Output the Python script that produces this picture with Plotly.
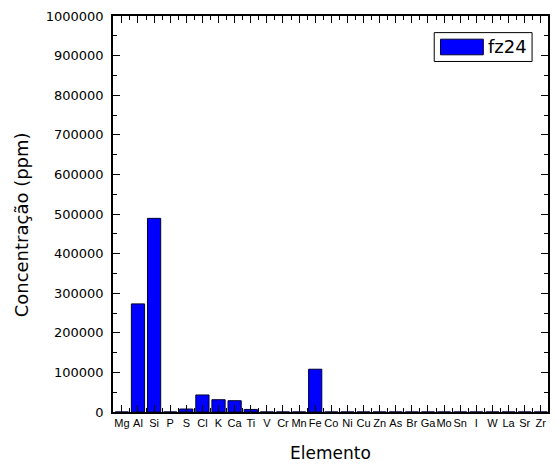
import plotly.graph_objects as go

elements = ["Mg", "Al", "Si", "P", "S", "Cl", "K", "Ca", "Ti", "V", "Cr", "Mn", "Fe",
            "Co", "Ni", "Cu", "Zn", "As", "Br", "Ga", "Mo", "Sn", "I", "W", "La", "Sr", "Zr"]
fz24 = [0, 273000, 489000, 0, 7500, 43000, 31000, 28500, 6500, 0, 0, 0, 108000,
        0, 0, 0, 0, 0, 0, 0, 0, 0, 0, 0, 0, 0, 0]
y_ticks = list(range(0, 1000001, 100000))

idx = list(range(len(elements)))
ARIAL = "Liberation Sans, Arial, sans-serif"
WIDE = "DejaVu Sans, sans-serif"

fig = go.Figure()
fig.add_trace(go.Bar(
    x=idx, y=fz24, name="fz24", width=0.82,
    marker=dict(color="#0000FF", line=dict(color="#000033", width=1)),
    showlegend=False,
))

fig.update_layout(
    width=559, height=469,
    margin=dict(l=113, r=9, t=15, b=56),
    paper_bgcolor="white", plot_bgcolor="white",
    font=dict(family=WIDE, color="black"),
)

fig.update_xaxes(
    range=[-0.55, 26.45],
    tickmode="array", tickvals=idx, ticktext=elements, tickangle=0,
    tickfont=dict(size=11, family=ARIAL), ticks="inside", ticklen=7, tickwidth=1,
    tickcolor="black",
    minor=dict(tickmode="linear", tick0=0.5, dtick=1, ticks="inside", ticklen=4,
               tickwidth=1, tickcolor="black", showgrid=False),
    showline=True, linecolor="black", linewidth=1.5, mirror="allticks",
    showgrid=False, zeroline=False,
    title=dict(text="Elemento", font=dict(size=17, family=WIDE), standoff=19),
)
fig.update_yaxes(
    range=[0, 1000000],
    tickmode="array", tickvals=y_ticks, ticktext=[str(v) for v in y_ticks],
    tickfont=dict(size=13, family=WIDE), ticks="inside", ticklen=7, tickwidth=1,
    tickcolor="black", ticklabelstandoff=5,
    minor=dict(tickmode="linear", tick0=50000, dtick=100000, ticks="inside", ticklen=4,
               tickwidth=1, tickcolor="black", showgrid=False),
    showline=True, linecolor="black", linewidth=1.5, mirror="allticks",
    showgrid=False, zeroline=False,
)

# Y axis title (placed like the original, slightly below the plot centre)
fig.add_annotation(xref="paper", yref="paper", x=(22 - 113) / 437, y=(413 - 225) / 398,
                   text="Concentração (ppm)", textangle=-90, showarrow=False,
                   xanchor="center", yanchor="middle",
                   font=dict(size=18, family=WIDE, color="black"))

# Legend box drawn manually (Origin-style wide swatch)
x0, x1 = (435.7 - 113) / 437, (534 - 113) / 437
y_top, y_bot = (413 - 31.7) / 398, (413 - 60.7) / 398
fig.add_shape(type="rect", xref="paper", yref="paper", x0=x0, x1=x1, y0=y_bot, y1=y_top,
              line=dict(color="black", width=1), fillcolor="white")
fig.add_shape(type="rect", xref="paper", yref="paper",
              x0=(442 - 113) / 437, x1=(485 - 113) / 437,
              y0=(413 - 54) / 398, y1=(413 - 38.3) / 398,
              line=dict(color="#000033", width=1), fillcolor="#0000FF")
fig.add_annotation(xref="paper", yref="paper", x=(488 - 113) / 437, y=(413 - 46) / 398,
                   text="fz24", showarrow=False, xanchor="left", yanchor="middle",
                   font=dict(size=18, family=WIDE, color="black"))

fig.write_html("out.html")
